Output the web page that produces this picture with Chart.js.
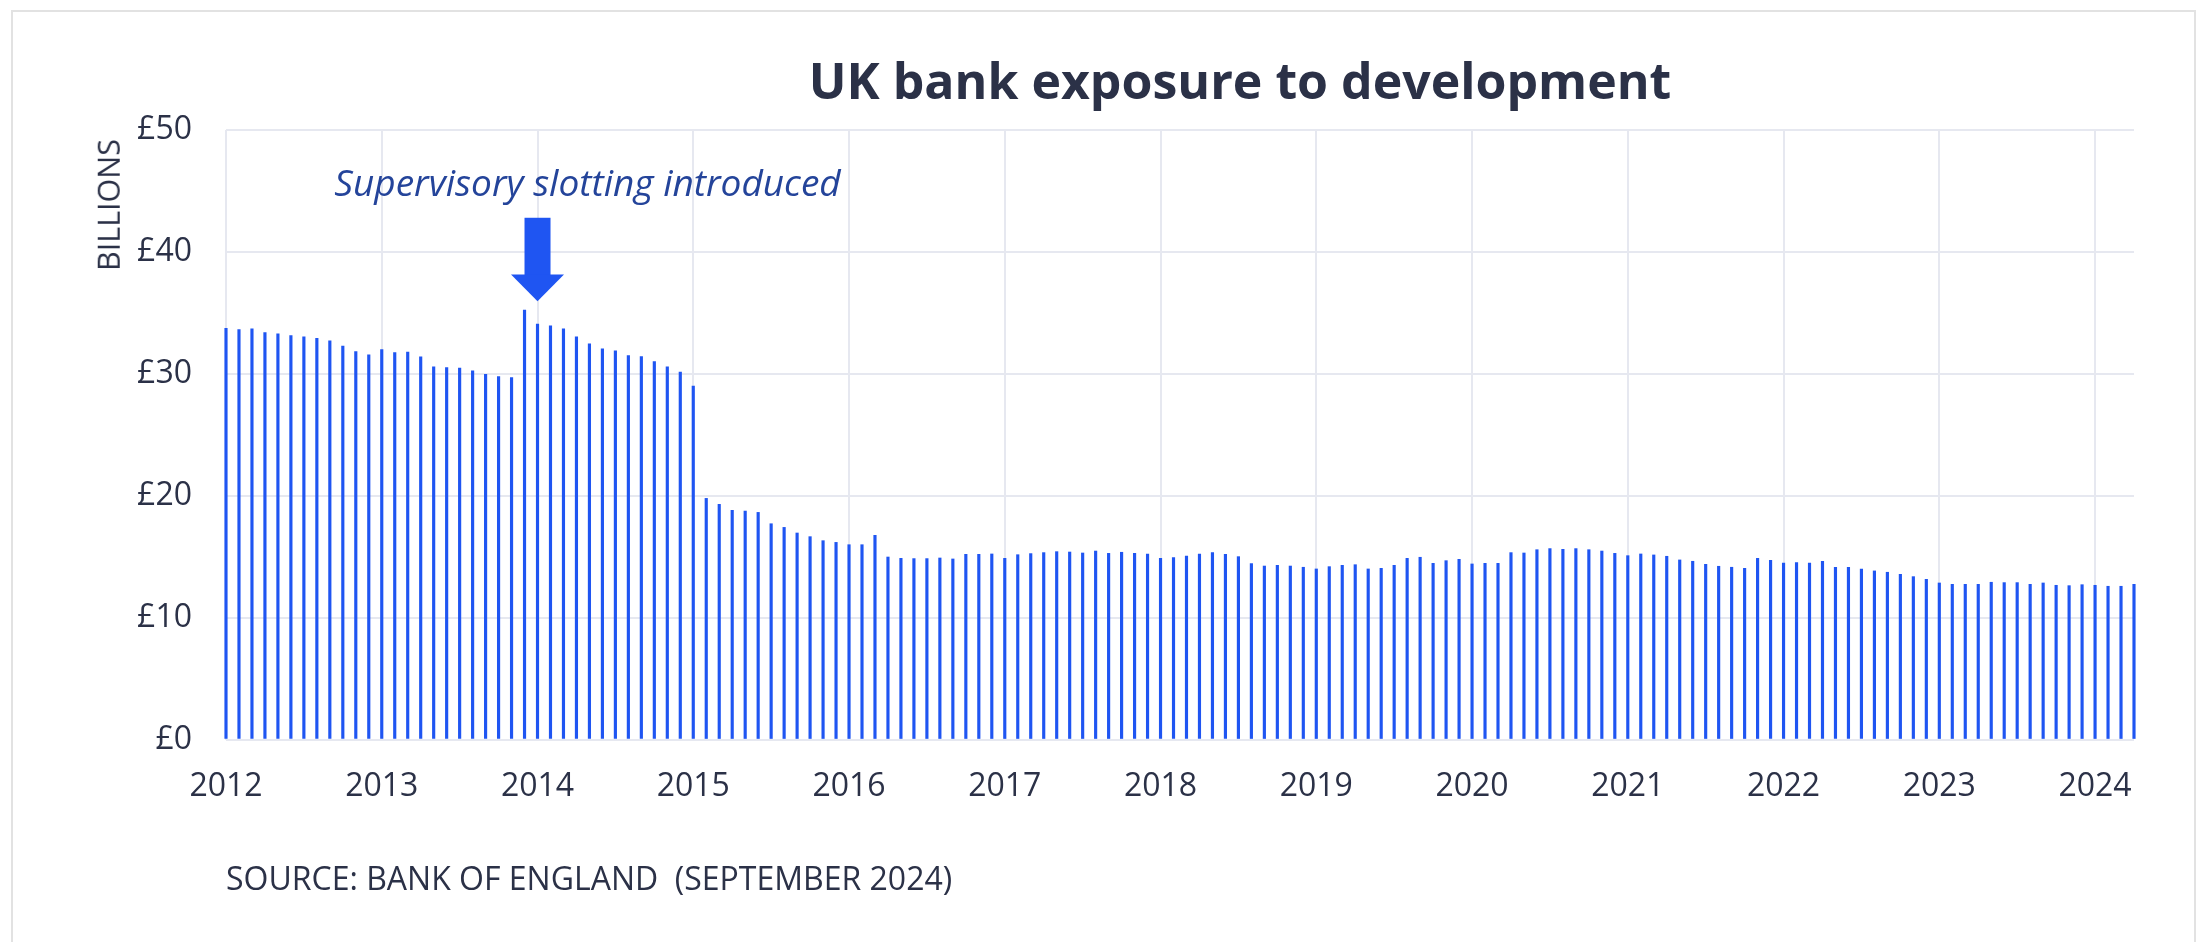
<!DOCTYPE html>
<html>
<head>
<meta charset="utf-8">
<script src="https://cdn.jsdelivr.net/npm/chart.js@4.4.1/dist/chart.umd.min.js"></script>
<style>
  html, body { margin: 0; padding: 0; background: #fff; }
  body { width: 2203px; height: 942px; position: relative; overflow: hidden; font-family: "Open Sans", sans-serif; color: #2b3147; }
  #card { position: absolute; left: 11px; top: 10px; width: 2185px; height: 1000px; border: 2px solid #e2e2e2; box-sizing: border-box; }
  canvas { position: absolute; left: 0; top: 0; }
  .txt { position: absolute; white-space: nowrap; line-height: 1; }
  #title { left: 1240px; top: 55px; transform: translateX(-50%); font-size: 50px; font-weight: 700; }
  #ytitle { left: 108px; top: 205px; transform: translate(-50%, -50%) rotate(-90deg); font-size: 30.5px; }
  #source { left: 226px; top: 862px; font-size: 32px; }
</style>
</head>
<body>
<div id="card"></div>
<canvas id="exposureChart" width="2203" height="942"></canvas>
<div class="txt" id="title">UK bank exposure to development</div>
<div class="txt" id="ytitle">BILLIONS</div>
<div class="txt" id="source">SOURCE: BANK OF ENGLAND&nbsp;&nbsp;(SEPTEMBER 2024)</div>

<script>
// monthly exposure, £bn
const years = ["2012", "2013", "2014", "2015", "2016", "2017", "2018", "2019", "2020", "2021", "2022", "2023", "2024"];
const monthNums = ["01", "02", "03", "04", "05", "06", "07", "08", "09", "10", "11", "12"];

const v2012 = [33.74, 33.63, 33.69, 33.39, 33.28, 33.14, 33.03, 32.92, 32.70, 32.27, 31.83, 31.56];
const v2013 = [31.99, 31.75, 31.78, 31.39, 30.57, 30.52, 30.46, 30.25, 29.95, 29.78, 29.70, 35.22];
const v2014 = [34.07, 33.93, 33.69, 33.03, 32.46, 32.05, 31.89, 31.50, 31.42, 31.01, 30.57, 30.14];
const v2015 = [28.99, 19.78, 19.29, 18.80, 18.74, 18.63, 17.70, 17.40, 16.94, 16.64, 16.31, 16.17];
const v2016 = [15.98, 15.98, 16.75, 14.97, 14.86, 14.84, 14.84, 14.89, 14.81, 15.19, 15.19, 15.22];
const v2017 = [14.86, 15.16, 15.25, 15.33, 15.41, 15.38, 15.30, 15.46, 15.27, 15.36, 15.27, 15.22];
const v2018 = [14.86, 14.92, 15.05, 15.22, 15.33, 15.19, 15.00, 14.43, 14.23, 14.29, 14.23, 14.13];
const v2019 = [13.99, 14.18, 14.29, 14.34, 13.99, 14.04, 14.29, 14.86, 14.95, 14.45, 14.67, 14.78];
const v2020 = [14.40, 14.45, 14.45, 15.33, 15.30, 15.57, 15.66, 15.60, 15.66, 15.57, 15.46, 15.27];
const v2021 = [15.08, 15.22, 15.14, 15.03, 14.73, 14.62, 14.37, 14.21, 14.13, 14.04, 14.86, 14.70];
const v2022 = [14.48, 14.51, 14.48, 14.62, 14.13, 14.13, 13.99, 13.83, 13.72, 13.55, 13.36, 13.14];
const v2023 = [12.84, 12.73, 12.73, 12.73, 12.90, 12.87, 12.87, 12.73, 12.84, 12.65, 12.62, 12.70];
const v2024 = [12.65, 12.57, 12.57, 12.73];

const exposure = [].concat(v2012, v2013, v2014, v2015, v2016, v2017, v2018, v2019, v2020, v2021, v2022, v2023, v2024);
const labels = years.flatMap(y => monthNums.map(m => y + "-" + m)).slice(0, exposure.length);

const yTicks = [0, 10, 20, 30, 40, 50];

// annotation
const noteText = "Supervisory slotting introduced";
const noteAt = "2014-01";
const arrowTop = 42.8;
const arrowHeadBase = 38.15;
const arrowTip = 35.95;
const noteBaseline = 44.6;

const BLUE = "#1f55f2";
const INK = "#2b3147";
const GRID = "#e6e8f0";

const annotationPlugin = {
    id: "slottingNote",
    afterDatasetsDraw(chart) {
        const ctx = chart.ctx;
        const xs = chart.scales.x;
        const ys = chart.scales.y;
        const x = xs.getPixelForValue(labels.indexOf(noteAt));
        const yTop = ys.getPixelForValue(arrowTop);
        const yHead = ys.getPixelForValue(arrowHeadBase);
        const yTip = ys.getPixelForValue(arrowTip);

        ctx.save();
        ctx.fillStyle = BLUE;
        ctx.fillRect(x - 13, yTop, 26, yHead - yTop + 1);
        ctx.beginPath();
        ctx.moveTo(x - 26.5, yHead);
        ctx.lineTo(x + 26.5, yHead);
        ctx.lineTo(x, yTip);
        ctx.closePath();
        ctx.fill();

        ctx.fillStyle = "#24449a";
        ctx.font = 'italic 37px "Open Sans"';
        ctx.textAlign = "center";
        ctx.textBaseline = "alphabetic";
        ctx.fillText(noteText, x + 50, ys.getPixelForValue(noteBaseline));
        ctx.restore();
    }
};

new Chart(document.getElementById("exposureChart"), {
    type: "bar",
    data: {
        labels: labels,
        datasets: [{
            data: exposure,
            backgroundColor: BLUE,
            borderWidth: 0,
            barThickness: 2.5,
            clip: false
        }]
    },
    options: {
        responsive: false,
        animation: false,
        layout: { padding: { left: 0, top: 130, right: 69, bottom: 102.5 } },
        plugins: { legend: { display: false }, tooltip: { enabled: false } },
        scales: {
            x: {
                offset: false,
                afterFit(scale) { scale.height = 100; },
                grid: { offset: false, color: GRID, lineWidth: 2, drawTicks: false },
                border: { display: false },
                ticks: {
                    autoSkip: false,
                    maxRotation: 0,
                    padding: 28,
                    color: INK,
                    font: { family: "Open Sans", size: 32 },
                    callback(value, index) {
                        return index % 12 === 0 ? labels[index].slice(0, 4) : null;
                    }
                }
            },
            y: {
                min: yTicks[0],
                max: yTicks[yTicks.length - 1],
                afterFit(scale) { scale.width = 226; },
                afterBuildTicks(scale) { scale.ticks = yTicks.map(v => ({ value: v })); },
                grid: { color: GRID, lineWidth: 2, drawTicks: false },
                border: { display: false },
                ticks: {
                    padding: 34,
                    color: INK,
                    font: { family: "Open Sans", size: 32 },
                    callback: v => "£" + v
                }
            }
        }
    },
    plugins: [annotationPlugin]
});
</script>
</body>
</html>
